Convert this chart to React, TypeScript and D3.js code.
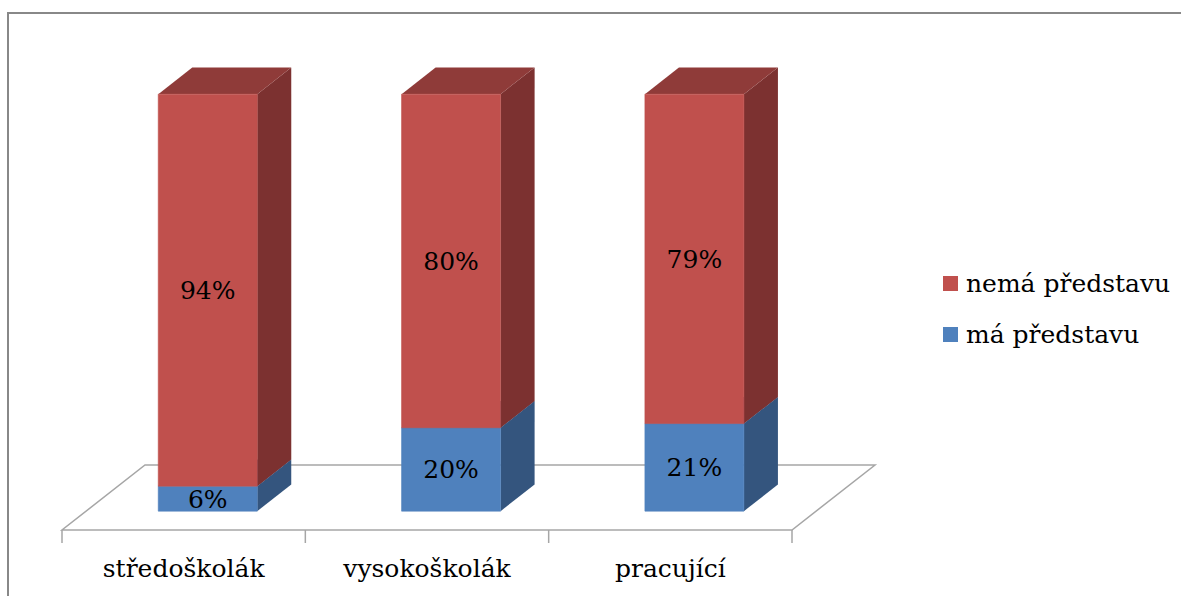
import * as d3 from "d3";
import { useEffect, useRef } from "react";

const categories = ["středoškolák", "vysokoškolák", "pracující"];
const maValues = [6, 20, 21];
const nemaValues = [94, 80, 79];
const seriesNames = ["nemá představu", "má představu"];

const W = 1181;
const H = 596;

export default function App() {
  const ref = useRef<SVGSVGElement>(null);

  useEffect(() => {
    if (!ref.current) return;
    const svg = d3.select(ref.current);
    svg.selectAll("*").remove();

    const font = "'DejaVu Serif', serif";
    const fs = 25;

    // depth vector for the whole floor (z from 0 = front to 1 = back)
    const depth = { dx: 83, dy: -65 };
    const proj = (px: number, py: number, z: number): [number, number] => [px + z * depth.dx, py + z * depth.dy];

    const x = d3.scaleBand().domain(categories).range([62, 792]).padding(0);
    const y = d3.scaleLinear().domain([0, 100]).range([530, 113]);
    const barW = 99;
    const z0 = 0.29;
    const z1 = 0.7;

    // frame
    svg
      .append("rect")
      .attr("x", 8)
      .attr("y", 13)
      .attr("width", W + 20)
      .attr("height", H + 20)
      .attr("fill", "none")
      .attr("stroke", "#888")
      .attr("stroke-width", 2);

    // floor outline
    const [x0, x1] = x.range();
    const y0 = y(0);
    const floor = [proj(x0, y0, 0), proj(x1, y0, 0), proj(x1, y0, 1), proj(x0, y0, 1)];
    svg
      .append("path")
      .attr("d", d3.line()(floor) + "Z")
      .attr("fill", "none")
      .attr("stroke", "#a6a6a6")
      .attr("stroke-width", 1.5);

    // category ticks
    const ticks = [x0, ...categories.map(c => x(c)! + x.bandwidth())];
    svg
      .selectAll(".tick")
      .data(ticks)
      .join("line")
      .attr("x1", d => d)
      .attr("x2", d => d)
      .attr("y1", y0)
      .attr("y2", y0 + 13)
      .attr("stroke", "#a6a6a6")
      .attr("stroke-width", 1.5);

    svg
      .selectAll(".cat")
      .data(categories)
      .join("text")
      .attr("x", d => x(d)! + x.bandwidth() / 2)
      .attr("y", 577)
      .attr("text-anchor", "middle")
      .style("font-family", font)
      .attr("font-size", fs)
      .attr("fill", "#000")
      .text(d => d);

    const colors = [
      { front: "#4F81BD", side: "#34557E", top: "#3E6796" },
      { front: "#C0504D", side: "#7C3130", top: "#8F3B39" },
    ];

    categories.forEach((c, i) => {
      const cx = x(c)! + x.bandwidth() / 2;
      const left = cx - barW / 2;
      const right = cx + barW / 2;
      const segs = [
        { from: 0, to: maValues[i], col: colors[0] },
        { from: maValues[i], to: maValues[i] + nemaValues[i], col: colors[1] },
      ];
      segs.forEach(s => {
        const yb = y(s.from);
        const yt = y(s.to);
        const side = [proj(right, yb, z0), proj(right, yb, z1), proj(right, yt, z1), proj(right, yt, z0)];
        const top = [proj(left, yt, z0), proj(right, yt, z0), proj(right, yt, z1), proj(left, yt, z1)];
        const front = [proj(left, yb, z0), proj(right, yb, z0), proj(right, yt, z0), proj(left, yt, z0)];
        svg.append("path").attr("d", d3.line()(side) + "Z").attr("fill", s.col.side);
        svg.append("path").attr("d", d3.line()(top) + "Z").attr("fill", s.col.top);
        svg
          .append("path")
          .attr("d", d3.line()(front) + "Z")
          .attr("fill", s.col.front)
          .attr("stroke", s.col.front)
          .attr("stroke-width", 0.6);
      });
      segs.forEach(s => {
        const [lx, ly] = proj(cx, (y(s.from) + y(s.to)) / 2, z0);
        svg
          .append("text")
          .attr("x", lx)
          .attr("y", ly)
          .attr("dy", "0.36em")
          .attr("text-anchor", "middle")
          .style("font-family", font)
          .attr("font-size", fs)
          .attr("fill", "#000")
          .text(`${s.to - s.from}%`);
      });
    });

    // legend
    const legend = svg.append("g");
    seriesNames.forEach((name, i) => {
      const ly = 276 + i * 51;
      legend
        .append("rect")
        .attr("x", 943)
        .attr("y", ly)
        .attr("width", 15)
        .attr("height", 15)
        .attr("fill", i === 0 ? colors[1].front : colors[0].front);
      legend
        .append("text")
        .attr("x", 966)
        .attr("y", ly + 16)
        .style("font-family", font)
        .attr("font-size", fs)
        .attr("fill", "#000")
        .text(name);
    });
  }, []);

  return (
    <svg
      ref={ref}
      width={W}
      height={H}
      style={{ position: "absolute", left: 0, top: 0, background: "#fff", display: "block" }}
    />
  );
}
